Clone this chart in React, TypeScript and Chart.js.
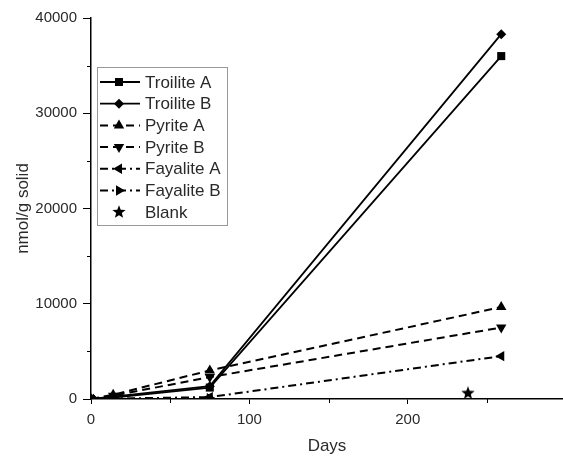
import React, { useEffect, useRef } from 'react';
import { Chart, registerables } from 'chart.js';
Chart.register(...registerables);

const days = [0, 14, 75, 259];
const troiliteA = [0, 150, 1200, 36000];
const troiliteB = [0, 250, 1350, 38300];
const pyriteA = [0, 450, 3000, 9650];
const pyriteB = [0, 350, 2300, 7500];
const fayaliteA = [0, 40, 200, 4500];
const fayaliteB = [0, 20, 80, null];
const blankDays = [238];
const blankValues = [600];

const seriesNames = ['Troilite A', 'Troilite B', 'Pyrite A', 'Pyrite B', 'Fayalite A', 'Fayalite B', 'Blank'];
const xTickValues = [0, 100, 200];
const xMinorTicks = [50, 150, 250];
const yTickValues = [0, 10000, 20000, 30000, 40000];
const yMinorTicks = [5000, 15000, 25000, 35000];

const FONT = 'Arial, "Liberation Sans", sans-serif';
const TEXT = '#2a2a2a';

function makeStar(size: number) {
  const c = document.createElement('canvas');
  c.width = size;
  c.height = size;
  const ctx = c.getContext('2d')!;
  drawStar(ctx, size / 2, size / 2, size / 2);
  return c;
}

function drawStar(ctx: CanvasRenderingContext2D, cx: number, cy: number, r: number) {
  const inner = r * 0.42;
  ctx.beginPath();
  for (let i = 0; i < 10; i++) {
    const rad = i % 2 === 0 ? r : inner;
    const a = -Math.PI / 2 + (i * Math.PI) / 5;
    const px = cx + Math.cos(a) * rad;
    const py = cy + Math.sin(a) * rad;
    if (i === 0) ctx.moveTo(px, py);
    else ctx.lineTo(px, py);
  }
  ctx.closePath();
  ctx.fillStyle = '#000';
  ctx.fill();
}

function drawMarker(ctx: CanvasRenderingContext2D, kind: string, x: number, y: number) {
  ctx.save();
  ctx.fillStyle = '#000';
  ctx.beginPath();
  const r = 6;
  if (kind === 'square') {
    ctx.rect(x - 4, y - 4, 8, 8);
  } else if (kind === 'diamond') {
    ctx.moveTo(x, y - 5);
    ctx.lineTo(x + 5, y);
    ctx.lineTo(x, y + 5);
    ctx.lineTo(x - 5, y);
  } else if (kind === 'star') {
    ctx.restore();
    drawStar(ctx, x, y, 7);
    return;
  } else {
    const rot = kind === 'up' ? 0 : kind === 'down' ? 180 : kind === 'left' ? -90 : 90;
    const base = (rot * Math.PI) / 180 - Math.PI / 2;
    for (let i = 0; i < 3; i++) {
      const a = base + (i * 2 * Math.PI) / 3;
      const px = x + Math.cos(a) * r;
      const py = y + Math.sin(a) * r;
      if (i === 0) ctx.moveTo(px, py);
      else ctx.lineTo(px, py);
    }
  }
  ctx.closePath();
  ctx.fill();
  ctx.restore();
}

const markerKinds = ['square', 'diamond', 'up', 'down', 'left', 'right', 'star'];

const legendPlugin = {
  id: 'customLegend',
  afterDraw(chart: any) {
    const ctx: CanvasRenderingContext2D = chart.ctx;
    const x0 = 97, y0 = 67, w = 130, h = 158;
    ctx.save();
    ctx.fillStyle = '#fff';
    ctx.fillRect(x0, y0, w, h);
    ctx.strokeStyle = '#999';
    ctx.lineWidth = 1;
    ctx.strokeRect(x0 + 0.5, y0 + 0.5, w, h);
    ctx.font = `17px ${FONT}`;
    ctx.textBaseline = 'middle';
    ctx.textAlign = 'left';
    chart.data.datasets.forEach((ds: any, i: number) => {
      const cy = 82 + i * 21.7;
      if (ds.showLine !== false) {
        ctx.save();
        ctx.strokeStyle = '#000';
        ctx.lineWidth = ds.borderWidth;
        ctx.setLineDash(ds.borderDash || []);
        ctx.beginPath();
        ctx.moveTo(100, cy);
        ctx.lineTo(140, cy);
        ctx.stroke();
        ctx.restore();
      }
      drawMarker(ctx, markerKinds[i], 119, cy);
      ctx.fillStyle = TEXT;
      ctx.fillText(ds.label, 145, cy + 1);
    });
    ctx.restore();
  },
};

const minorTickPlugin = {
  id: 'minorTicks',
  afterDraw(chart: any) {
    const ctx: CanvasRenderingContext2D = chart.ctx;
    const xs = chart.scales.x;
    const ys = chart.scales.y;
    ctx.save();
    ctx.strokeStyle = '#000';
    ctx.lineWidth = 1;
    ctx.beginPath();
    yMinorTicks.forEach((v) => {
      const py = Math.round(ys.getPixelForValue(v)) + 0.5;
      ctx.moveTo(ys.right - 4, py);
      ctx.lineTo(ys.right, py);
    });
    xMinorTicks.forEach((v) => {
      const px = Math.round(xs.getPixelForValue(v)) + 0.5;
      ctx.moveTo(px, xs.top);
      ctx.lineTo(px, xs.top + 4);
    });
    ctx.stroke();
    ctx.restore();
  },
};

function pts(vals: (number | null)[], xs: number[] = days) {
  return xs.map((d, i) => ({ x: d, y: vals[i] }));
}

export default function App() {
  const ref = useRef<HTMLCanvasElement | null>(null);
  useEffect(() => {
    if (!ref.current) return;
    const star = makeStar(14);
    const common = { borderColor: '#000', backgroundColor: '#000', pointBorderWidth: 0, pointHoverRadius: 6 };
    const chart = new Chart(ref.current, {
      type: 'line',
      data: {
        datasets: [
          { ...common, label: seriesNames[0], data: pts(troiliteA), borderWidth: 1.8, pointStyle: 'rect', pointRadius: 5.7 },
          { ...common, label: seriesNames[1], data: pts(troiliteB), borderWidth: 1.8, pointStyle: 'rectRot', pointRadius: 5 },
          { ...common, label: seriesNames[2], data: pts(pyriteA), borderWidth: 2, borderDash: [8, 5], pointStyle: 'triangle', pointRadius: 6 },
          { ...common, label: seriesNames[3], data: pts(pyriteB), borderWidth: 2, borderDash: [8, 5], pointStyle: 'triangle', pointRotation: 180, pointRadius: 6 },
          { ...common, label: seriesNames[4], data: pts(fayaliteA), borderWidth: 2, borderDash: [8, 4, 2, 4], pointStyle: 'triangle', pointRotation: -90, pointRadius: 6 },
          { ...common, label: seriesNames[5], data: pts(fayaliteB), borderWidth: 2, borderDash: [8, 4, 2, 4], pointStyle: 'triangle', pointRotation: 90, pointRadius: 6 },
          { ...common, label: seriesNames[6], data: pts(blankValues, blankDays), showLine: false, pointStyle: star as any, pointRadius: 7 },
        ],
      },
      options: {
        responsive: false,
        animation: false,
        devicePixelRatio: 1,
        layout: { autoPadding: false, padding: { top: 18, left: 0, right: 0, bottom: 0 } },
        plugins: { legend: { display: false }, tooltip: { enabled: false } },
        scales: {
          x: {
            type: 'linear',
            min: 0,
            max: 298,
            afterFit: (s: any) => { s.height = 58; },
            afterBuildTicks: (s: any) => { s.ticks = xTickValues.map((v) => ({ value: v })); },
            ticks: { font: { family: FONT, size: 15 }, color: TEXT, padding: 7, maxRotation: 0, includeBounds: false, callback: (v: any) => String(v) },
            grid: { drawOnChartArea: false, drawTicks: true, tickLength: 5, color: '#000' },
            border: { display: true, color: '#000', width: 1.5 },
            title: { display: true, text: 'Days', font: { family: FONT, size: 17 }, color: TEXT, padding: { top: 9, bottom: 0 } },
          },
          y: {
            type: 'linear',
            min: 0,
            max: 40000,
            afterFit: (s: any) => { s.width = 91; },
            afterBuildTicks: (s: any) => { s.ticks = yTickValues.map((v) => ({ value: v })); },
            ticks: { font: { family: FONT, size: 15 }, color: TEXT, padding: 6, callback: (v: any) => String(v) },
            grid: { drawOnChartArea: false, drawTicks: true, tickLength: 8, color: '#000' },
            border: { display: true, color: '#000', width: 1.5 },
            title: { display: true, text: 'nmol/g solid', font: { family: FONT, size: 17 }, color: TEXT, padding: { top: 13, bottom: 0 } },
          },
        },
      },
      plugins: [legendPlugin, minorTickPlugin],
    });
    return () => chart.destroy();
  }, []);
  return (
    <div style={{ position: 'absolute', left: 0, top: 0 }}>
      <canvas ref={ref} width={563} height={457} style={{ display: 'block', width: 563, height: 457 }} />
    </div>
  );
}
